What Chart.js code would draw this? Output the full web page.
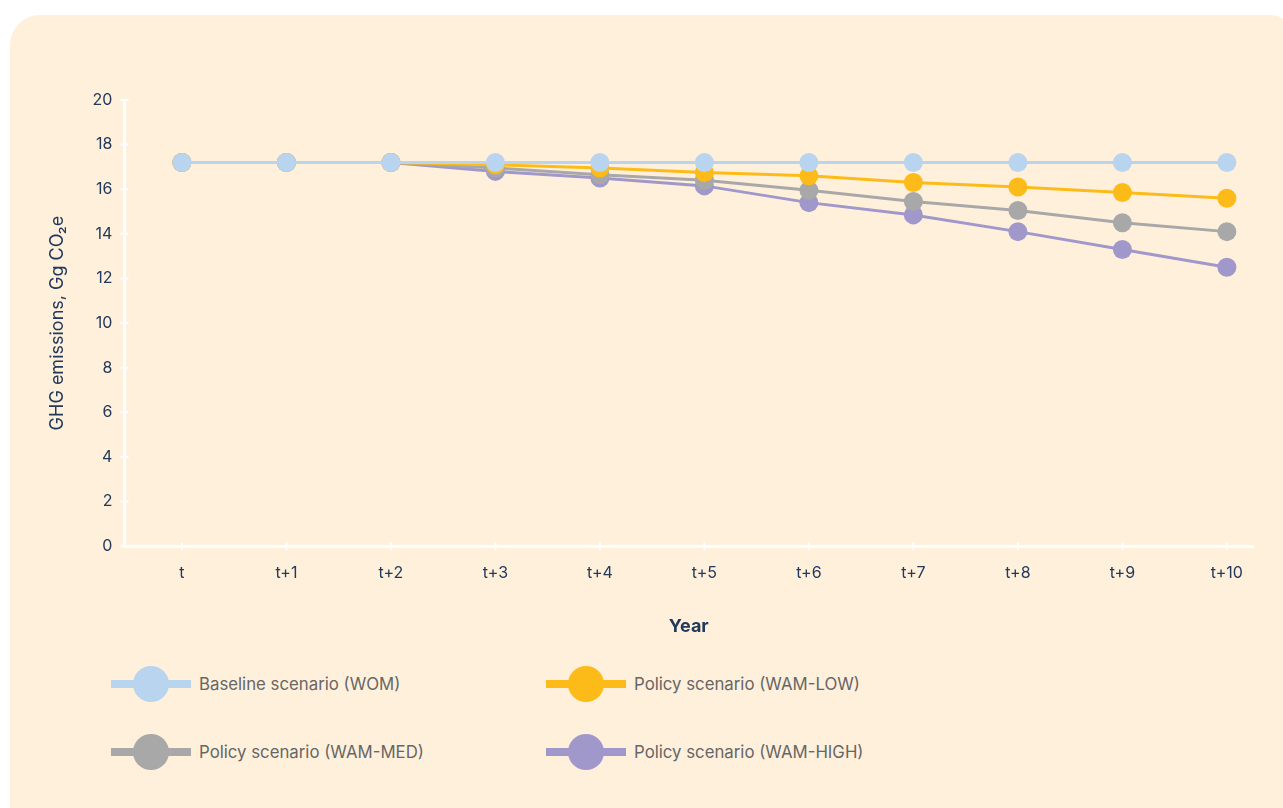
<!DOCTYPE html>
<html>
<head>
<meta charset="utf-8">
<script src="https://cdn.jsdelivr.net/npm/chart.js@4/dist/chart.umd.min.js"></script>
<style>
    body { margin: 0; background: #ffffff; font-family: Inter, "Noto Sans", sans-serif; }
    #panel {
        position: absolute; left: 10px; top: 15px; width: 1283px; height: 810px;
        background: #FFF0DC; border-radius: 30px 22px 0 0;
    }
    #wrap { position: absolute; left: 0; top: 0; }
    .leg { position: absolute; display: flex; align-items: center; font-size: 16.8px; color: #666666; }
    .mark { position: relative; width: 80px; height: 36px; margin-right: 8px; }
    .mark .ln { position: absolute; left: 0; right: 0; top: 14px; height: 8px; }
    .mark .dot { position: absolute; left: 22px; top: 0; width: 36px; height: 36px; border-radius: 50%; }
</style>
</head>
<body>
<div id="panel"></div>
<div id="wrap"><canvas id="GHG_Graph" width="1283" height="650"></canvas></div>
<div id="legend"></div>

<script>
// years along the x axis
var years = ['t', 't+1', 't+2', 't+3', 't+4', 't+5', 't+6', 't+7', 't+8', 't+9', 't+10'];

// emissions, Gg CO2e
var baseline = [17.2, 17.2, 17.2, 17.2, 17.2, 17.2, 17.2, 17.2, 17.2, 17.2, 17.2];
var wamLow   = [17.2, 17.2, 17.2, 17.1, 16.95, 16.75, 16.6, 16.3, 16.1, 15.85, 15.6];
var wamMed   = [17.2, 17.2, 17.2, 16.95, 16.65, 16.4, 15.95, 15.45, 15.05, 14.5, 14.1];
var wamHigh  = [17.2, 17.2, 17.2, 16.8, 16.5, 16.15, 15.4, 14.85, 14.1, 13.3, 12.5];

var yTicks = [0, 2, 4, 6, 8, 10, 12, 14, 16, 18, 20];

var names  = ['Baseline scenario (WOM)', 'Policy scenario (WAM-LOW)', 'Policy scenario (WAM-MED)', 'Policy scenario (WAM-HIGH)'];
var colors = ['#B8D4EE', '#FDBB1A', '#A8A8A8', '#A098CB'];
var series = [baseline, wamLow, wamMed, wamHigh];

var navy = '#22395B';

function toPoints(vals) {
    return vals.map(function (v, i) { return { x: i, y: v }; });
}

// white little ticks crossing the axes
var crossTicks = {
    id: 'crossTicks',
    afterDraw: function (chart) {
        var ctx = chart.ctx;
        var xs = chart.scales.x, ys = chart.scales.y;
        ctx.save();
        ctx.strokeStyle = '#ffffff';
        ctx.lineWidth = 2;
        ctx.beginPath();
        ys.ticks.forEach(function (t) {
            var py = ys.getPixelForValue(t.value);
            ctx.moveTo(xs.left - 4, py);
            ctx.lineTo(xs.left + 4, py);
        });
        xs.ticks.forEach(function (t) {
            var px = xs.getPixelForValue(t.value);
            ctx.moveTo(px, ys.bottom - 4);
            ctx.lineTo(px, ys.bottom + 4);
        });
        ctx.stroke();
        ctx.restore();
    }
};

var datasets = series.map(function (vals, i) {
    return {
        label: names[i],
        data: toPoints(vals),
        borderColor: colors[i],
        backgroundColor: colors[i],
        pointBackgroundColor: colors[i],
        pointBorderWidth: 0,
        pointRadius: 9.5,
        borderWidth: 3,
        tension: 0
    };
});

var ctx = document.getElementById('GHG_Graph').getContext('2d');
var graph = new Chart(ctx, {
    type: 'line',
    data: { datasets: datasets },
    options: {
        responsive: false,
        animation: false,
        layout: { padding: { left: 43, right: 30, top: 100, bottom: 9 } },
        plugins: { legend: { display: false }, tooltip: { enabled: false } },
        scales: {
            x: {
                type: 'linear',
                min: -0.55,
                max: 10.25,
                afterBuildTicks: function (s) {
                    s.ticks = years.map(function (_, i) { return { value: i }; });
                },
                grid: { display: false, drawTicks: false },
                border: { color: '#ffffff', width: 3 },
                ticks: {
                    padding: 17,
                    color: navy,
                    font: { family: 'Inter', size: 16 },
                    maxRotation: 0,
                    autoSkip: false,
                    callback: function (v) { return years[v]; }
                },
                title: {
                    display: true,
                    text: 'Year',
                    color: navy,
                    font: { family: 'Inter', size: 18, weight: 'bold' },
                    padding: { top: 16, bottom: 4 }
                }
            },
            y: {
                min: 0,
                max: 20,
                afterBuildTicks: function (s) {
                    s.ticks = yTicks.map(function (v) { return { value: v }; });
                },
                grid: { display: false, drawTicks: false },
                border: { color: '#ffffff', width: 3 },
                ticks: {
                    padding: 12,
                    color: navy,
                    font: { family: 'Inter', size: 16 }
                },
                title: {
                    display: true,
                    text: 'GHG emissions, Gg CO₂e',
                    color: navy,
                    font: { family: 'Inter', size: 18 },
                    padding: { top: 4, bottom: 12 }
                }
            }
        }
    },
    plugins: [crossTicks]
});

// legend, two columns
var legPos = [[111, 666], [546, 666], [111, 734], [546, 734]];
var legend = document.getElementById('legend');
names.forEach(function (name, i) {
    var item = document.createElement('div');
    item.className = 'leg';
    item.style.left = legPos[i][0] + 'px';
    item.style.top = legPos[i][1] + 'px';
    item.innerHTML = '<div class="mark"><div class="ln" style="background:' + colors[i] + '"></div>' +
        '<div class="dot" style="background:' + colors[i] + '"></div></div><span>' + name + '</span>';
    legend.appendChild(item);
});
</script>
</body>
</html>
